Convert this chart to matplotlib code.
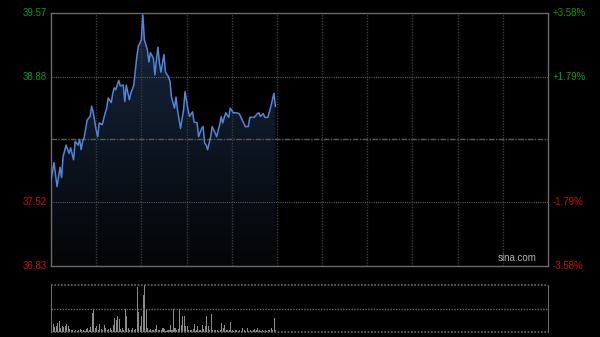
import numpy as np
import matplotlib
matplotlib.use('Agg')
import matplotlib.pyplot as plt
from matplotlib.colors import LinearSegmentedColormap

# price, minute index since open (09:30)
minutes = [0, 2, 4, 6, 7, 8, 10, 12, 13, 15, 16, 18, 19, 20, 21, 22, 24, 26, 27, 28,
           30, 31, 32, 34, 36, 37, 38, 40, 41, 42, 43, 45, 46, 48, 49, 50, 52, 53, 55, 57,
           58, 60, 61, 62, 64, 65, 66, 68, 69, 70, 71, 72, 73, 75, 76, 78, 79, 80, 82, 83,
           84, 86, 88, 89, 91, 92, 94, 95, 97, 98, 100, 101, 102, 103, 104, 106, 107, 109, 110, 112,
           113, 114, 116, 118, 119, 121, 123, 125, 127, 129, 131, 132, 135, 137, 138, 139, 141, 142, 144, 146,
           148, 149]
prices = [37.76, 37.95, 37.69, 37.90, 37.79, 38.01, 38.14, 38.05, 38.11, 37.98, 38.18, 38.14, 38.20, 38.09, 38.18, 38.22, 38.41, 38.45, 38.56, 38.50,
          38.30, 38.23, 38.38, 38.36, 38.49, 38.54, 38.65, 38.60, 38.70, 38.76, 38.74, 38.84, 38.78, 38.79, 38.61, 38.79, 38.63, 38.70, 38.79, 39.10,
          39.21, 39.28, 39.55, 39.28, 39.17, 39.04, 39.14, 39.08, 38.90, 39.06, 39.20, 39.03, 38.93, 39.12, 38.93, 38.88, 38.83, 38.66, 38.54, 38.66,
          38.52, 38.32, 38.52, 38.72, 38.52, 38.45, 38.50, 38.39, 38.38, 38.23, 38.32, 38.34, 38.16, 38.14, 38.09, 38.23, 38.34, 38.27, 38.23, 38.36,
          38.45, 38.38, 38.49, 38.44, 38.54, 38.49, 38.49, 38.48, 38.41, 38.34, 38.34, 38.44, 38.44, 38.48, 38.49, 38.45, 38.48, 38.44, 38.44, 38.56,
          38.70, 38.56]

# volume per minute, relative to the panel height (0-100)
volume = [33, 18, 10, 12, 20, 24, 8, 12, 10, 12,
          17, 13, 6, 5, 4, 3, 5, 3, 4, 6,
          4, 5, 3, 6, 8, 5, 10, 40, 47, 8,
          12, 5, 17, 6, 5, 15, 8, 5, 6, 8,
          5, 15, 29, 26, 33, 27, 6, 8, 4, 48,
          33, 8, 5, 4, 8, 4, 6, 95, 42, 12,
          33, 79, 100, 47, 8, 4, 6, 5, 4, 6,
          15, 4, 4, 5, 8, 6, 3, 5, 4, 15,
          4, 50, 8, 4, 6, 50, 15, 33, 33, 12,
          12, 4, 5, 4, 6, 17, 4, 13, 5, 4,
          15, 6, 12, 33, 12, 4, 38, 4, 5, 4,
          4, 3, 5, 20, 8, 15, 4, 5, 4, 22,
          4, 3, 4, 4, 3, 4, 3, 8, 4, 3,
          8, 3, 4, 3, 4, 6, 4, 8, 4, 3,
          4, 3, 4, 3, 5, 4, 8, 4, 29, 4]

prev_close = 38.20
price_ticks = [39.57, 38.88, 37.52, 36.83]
pct_labels = ['+3.58%', '+1.79%', '-1.79%', '-3.58%']
tick_colors = ['#0e9a0e', '#0e9a0e', '#c81010', '#c81010']
total_minutes = 330

plt.rcParams['font.family'] = ['Liberation Sans', 'DejaVu Sans']

fig = plt.figure(figsize=(6, 3.37), dpi=100, facecolor='black')
ax = fig.add_axes([51/600, 71/337, 497/600, 253/337], facecolor='black')
axv = fig.add_axes([51/600, 5/337, 497/600, 47/337], facecolor='black')

ymin, ymax = price_ticks[-1], price_ticks[0]
ax.set_xlim(0, total_minutes)
ax.set_ylim(ymin, ymax)

# grid (drawn over the fill, under the line)
for m in range(30, total_minutes, 30):
    ax.axvline(m, color='#3c3c3c', lw=1, ls=(0, (1, 1)), zorder=2.5)
for p in [price_ticks[1], price_ticks[2]]:
    ax.axhline(p, color='#5a5a5a', lw=0.8, ls=(0, (1, 1)), zorder=2.5)
ax.axhline(prev_close, color='#5a5a5a', lw=1, ls=(0, (4, 1, 1, 1)), zorder=2.5)

# gradient fill under the price line
grad = LinearSegmentedColormap.from_list('g', ['#040506', '#172740'])
gimg = np.linspace(0, 1, 256).reshape(-1, 1)
im = ax.imshow(gimg, cmap=grad, aspect='auto', origin='lower',
               extent=[0, total_minutes, ymin, max(prices)], zorder=2)
poly = ax.fill_between(minutes, prices, ymin, color='none', lw=0)
im.set_clip_path(poly.get_paths()[0], transform=ax.transData)
ax.plot(minutes, prices, color='#4f86d8', lw=1.1, zorder=3)

for sp in ax.spines.values():
    sp.set_color('#6a6a6a')
    sp.set_linewidth(1)
ax.set_xticks([])
ax.set_yticks([])

for p, pl, c in zip(price_ticks, pct_labels, tick_colors):
    ax.text(-0.008, (p - ymin) / (ymax - ymin), '%.2f' % p, transform=ax.transAxes,
            ha='right', va='center', color=c, fontsize=7)
    ax.text(1.01, (p - ymin) / (ymax - ymin), pl, transform=ax.transAxes,
            ha='left', va='center', color=c, fontsize=7)

ax.text(0.978, 0.012, 'sina.com', transform=ax.transAxes, ha='right', va='bottom',
        color='#b0b0b0', fontsize=7)

# volume panel
axv.set_xlim(0, total_minutes)
axv.set_ylim(0, 100)
axv.bar(range(len(volume)), volume, width=0.7, color='#8a8a8a', align='edge')
axv.axhline(50, color='#6a6a6a', lw=1, ls=(0, (1, 1)))
axv.axhline(100, color='#6a6a6a', lw=1.2, ls=(0, (1, 1)), clip_on=False)
axv.axhline(0, color='#6a6a6a', lw=1.2, ls=(0, (1, 1)), clip_on=False)
axv.spines['top'].set_visible(False)
axv.spines['bottom'].set_visible(False)
for s in ['left', 'right']:
    axv.spines[s].set_color('#6a6a6a')
axv.set_xticks([])
axv.set_yticks([])

fig.savefig('out.png', dpi=100, facecolor='black')
